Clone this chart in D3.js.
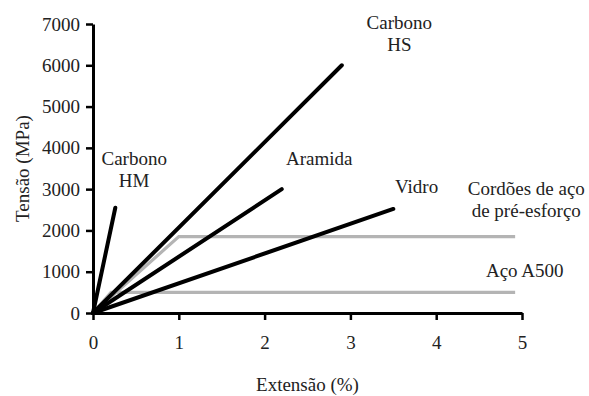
<!DOCTYPE html>
<html>
<head>
<meta charset="utf-8">
<script src="https://cdn.jsdelivr.net/npm/d3@7"></script>
<style>
  body { margin: 0; background: #fff; }
  svg { display: block; }
</style>
</head>
<body>
<svg id="chart" width="589" height="396"></svg>
<script>
// Data: extension (%) vs stress (MPa)
var xTicks = [0, 1, 2, 3, 4, 5];
var yTicks = [0, 1000, 2000, 3000, 4000, 5000, 6000, 7000];

var carbonoHM = [[0, 0], [0.26, 2550]];
var carbonoHS = [[0, 0], [2.9, 6000]];
var aramida = [[0, 0], [2.2, 3000]];
var vidro = [[0, 0], [3.5, 2520]];
var cordoes = [[0, 0], [1.0, 1850], [4.92, 1850]];
var acoA500 = [[0, 0], [0.21, 500], [4.92, 500]];

var serif = "'Liberation Serif', 'DejaVu Serif', 'Noto Serif', Times, serif";

var svg = d3.select("#chart"),
    margin = {top: 24, left: 93, bottom: 83, right: 67},
    width = +svg.attr("width"),
    height = +svg.attr("height");

var x = d3.scaleLinear()
    .domain([0, 5])
    .range([margin.left, width - margin.right]);

var y = d3.scaleLinear()
    .domain([0, 7000])
    .range([height - margin.bottom, margin.top]);

var line = d3.line()
    .x(d => x(d[0]))
    .y(d => y(d[1]));

// gray steel lines drawn first, fibres on top
var grey = "#b4b4b4";
[cordoes, acoA500].forEach(function (s) {
    svg.append("path")
        .datum(s)
        .attr("d", line)
        .attr("fill", "none")
        .attr("stroke", grey)
        .attr("stroke-width", 3.2);
});

[carbonoHM, carbonoHS, aramida, vidro].forEach(function (s) {
    svg.append("path")
        .datum(s)
        .attr("d", line)
        .attr("fill", "none")
        .attr("stroke", "#000")
        .attr("stroke-width", 4)
        .attr("stroke-linecap", "round");
});

// axes
var xAxis = svg.append("g")
    .attr("transform", `translate(0,${y(0)})`)
    .call(d3.axisBottom(x).tickValues(xTicks).tickFormat(d3.format("d"))
        .tickSizeInner(7).tickSizeOuter(0).tickPadding(16));

var yAxis = svg.append("g")
    .attr("transform", `translate(${x(0)},0)`)
    .call(d3.axisLeft(y).tickValues(yTicks).tickFormat(d3.format("d"))
        .tickSizeInner(7).tickSizeOuter(0).tickPadding(6));

[xAxis, yAxis].forEach(function (g) {
    g.attr("font-family", null).attr("font-size", null);
    g.select(".domain").attr("stroke", "#000").attr("stroke-width", 3);
    g.selectAll(".tick line").attr("stroke", "#000").attr("stroke-width", 2.5);
    g.selectAll(".tick text")
        .style("font-family", serif)
        .style("font-size", "19px")
        .attr("fill", "#222");
});

// axis titles
svg.append("text")
    .attr("x", (x(0) + x(5)) / 2)
    .attr("y", 391)
    .attr("text-anchor", "middle")
    .style("font-family", serif)
    .style("font-size", "19px")
    .attr("fill", "#222")
    .text("Extensão (%)");

svg.append("text")
    .attr("transform", `translate(29, ${y(3500)}) rotate(-90)`)
    .attr("text-anchor", "middle")
    .style("font-family", serif)
    .style("font-size", "19px")
    .attr("fill", "#222")
    .text("Tensão (MPa)");

// series labels
var labels = [
    {lines: ["Carbono", "HM"], x: 0.48, y: 3580, anchor: "middle"},
    {lines: ["Carbono", "HS"], x: 3.57, y: 6880, anchor: "middle"},
    {lines: ["Aramida"], x: 2.25, y: 3580, anchor: "start"},
    {lines: ["Vidro"], x: 3.52, y: 2900, anchor: "start"},
    {lines: ["Cordões de aço", "de pré-esforço"], x: 5.05, y: 2860, anchor: "middle"},
    {lines: ["Aço A500"], x: 4.58, y: 880, anchor: "start"}
];

labels.forEach(function (l) {
    var t = svg.append("text")
        .attr("x", x(l.x))
        .attr("y", y(l.y))
        .attr("text-anchor", l.anchor)
        .style("font-family", serif)
        .style("font-size", "19px")
        .attr("fill", "#222");
    l.lines.forEach(function (s, i) {
        t.append("tspan")
            .attr("x", x(l.x))
            .attr("dy", i === 0 ? 0 : 22)
            .text(s);
    });
});
</script>
</body>
</html>
